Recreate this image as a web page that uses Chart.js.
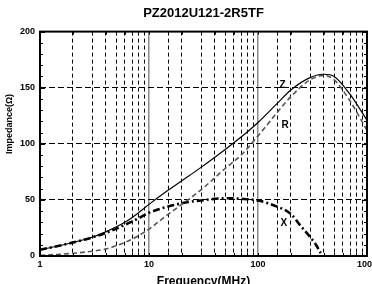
<!DOCTYPE html>
<html lang="en">
<head>
<meta charset="UTF-8" />
<title>PZ2012U121-2R5TF</title>
<style>
  html, body { margin: 0; padding: 0; background: #fff; overflow: hidden; }
  .chart-box { width: 372px; height: 284px; position: relative; }
</style>
</head>
<body>
<div class="chart-box"><canvas id="impChart"></canvas></div>
<script src="https://cdn.jsdelivr.net/npm/chart.js"></script>
<script>
// Z and R are read at these frequencies (MHz)
const freqs = [1, 2, 3, 4, 6, 8, 10, 14, 20, 30, 50, 70, 100, 150, 200, 300, 400, 500, 700, 1000];
const zValues = [5.5, 12, 16.7, 21.5, 30, 38.5, 46, 56.5, 67, 79, 95, 106, 119, 136, 148, 159, 162, 160, 144, 121];
const rValues = [0.5, 2.4, 4.2, 6.2, 12, 18, 24, 35, 46, 59, 78, 90, 107, 128, 142, 157, 161, 157, 138, 112];

// X (reactance) stops where it drops to zero
const xFreqs = [1, 2, 3, 4, 6, 8, 10, 20, 30, 50, 70, 100, 150, 200, 250, 300, 340, 376];
const xValues = [5.5, 12, 16.5, 20.5, 27.7, 33.6, 38.5, 47, 49.5, 51.5, 51, 49.4, 44, 37.5, 26, 17, 10, 2.5];

const decadeTicks = [1, 10, 100, 1000];
const yLabelTicks = [0, 50, 100, 150, 200];

const FONT = 'Arial, "Liberation Sans", sans-serif';
Chart.defaults.font.family = FONT;
Chart.defaults.color = '#000';

const isDecade = v => decadeTicks.includes(v);
const toPoints = (xs, ys) => xs.map((f, i) => ({ x: f, y: ys[i] }));

// frame, inward ticks, curve names and y title
const framePlugin = {
  id: 'frame',
  afterDraw(chart) {
    const { ctx, chartArea: a, scales } = chart;
    ctx.save();
    ctx.strokeStyle = '#000';
    ctx.lineWidth = 1;
    ctx.beginPath();
    for (let v = 0; v <= 200; v += 10) {
      const y = Math.round(scales.y.getPixelForValue(v)) + 0.5;
      const len = yLabelTicks.includes(v) ? 5 : 3;
      ctx.moveTo(a.left, y); ctx.lineTo(a.left + len, y);
      ctx.moveTo(a.right, y); ctx.lineTo(a.right - len, y);
    }
    scales.x.ticks.forEach(t => {
      const x = Math.round(scales.x.getPixelForValue(t.value)) + 0.5;
      ctx.moveTo(x, a.top); ctx.lineTo(x, a.top + 3);
      ctx.moveTo(x, a.bottom); ctx.lineTo(x, a.bottom - 3);
    });
    ctx.stroke();
    ctx.lineWidth = 2;
    ctx.strokeRect(a.left, a.top, a.right - a.left, a.bottom - a.top);

    ctx.fillStyle = '#000';
    ctx.textAlign = 'center';
    ctx.textBaseline = 'middle';
    ctx.font = 'bold 10px ' + FONT;
    [['Z', 168, 152], ['R', 177, 116.5], ['X', 173, 29.5]].forEach(([txt, f, v]) => {
      ctx.fillText(txt, scales.x.getPixelForValue(f), scales.y.getPixelForValue(v));
    });

    ctx.translate(10, 124);
    ctx.rotate(-Math.PI / 2);
    ctx.font = 'bold 9px ' + FONT;
    ctx.fillText('Impedance(\u03A9)', 0, 0);
    ctx.restore();
  }
};

new Chart(document.getElementById('impChart'), {
  type: 'line',
  data: {
    datasets: [
      { label: 'Z', data: toPoints(freqs, zValues), borderColor: '#000', borderWidth: 1.2 },
      { label: 'R', data: toPoints(freqs, rValues), borderColor: '#555', borderWidth: 1.6, borderDash: [5, 3] },
      { label: 'X', data: toPoints(xFreqs, xValues), borderColor: '#000', borderWidth: 2.6, borderDash: [7, 3, 2, 3] }
    ]
  },
  options: {
    responsive: true,
    maintainAspectRatio: false,
    animation: false,
    devicePixelRatio: 1,
    layout: { padding: { left: 0, right: 5, top: 0, bottom: -5 } },
    elements: {
      point: { radius: 0 },
      line: { cubicInterpolationMode: 'monotone', fill: false }
    },
    plugins: {
      legend: { display: false },
      tooltip: { enabled: false },
      title: {
        display: true,
        text: 'PZ2012U121-2R5TF',
        fullSize: false,
        color: '#000',
        font: { size: 13, weight: 'bold' },
        padding: { top: 6, bottom: 10 }
      }
    },
    scales: {
      x: {
        type: 'logarithmic',
        min: 1,
        max: 1000,
        ticks: {
          autoSkip: false,
          maxRotation: 0,
          padding: 3,
          color: '#000',
          font: { size: 9, weight: 'bold' },
          callback: v => (isDecade(v) ? String(v) : '')
        },
        grid: {
          color: c => (c.tick && isDecade(c.tick.value) ? 'rgba(0,0,0,0)' : '#000'),
          lineWidth: 1,
          drawTicks: false
        },
        border: { display: false, dash: [4, 3] },
        title: {
          display: true,
          text: 'Frequency(MHz)',
          color: '#000',
          font: { size: 12, weight: 'bold' },
          padding: 0
        },
        afterFit(s) { s.height = 33; s.paddingLeft = 0; s.paddingRight = 0; }
      },
      xDec: {
        type: 'logarithmic',
        position: 'bottom',
        min: 1,
        max: 1000,
        ticks: { display: false },
        grid: { color: '#8a8a8a', lineWidth: 1.5, drawTicks: false },
        border: { display: false },
        afterBuildTicks(s) { s.ticks = decadeTicks.map(v => ({ value: v })); },
        afterFit(s) { s.height = 0; s.paddingLeft = 0; s.paddingRight = 0; }
      },
      y: {
        min: 0,
        max: 200,
        ticks: {
          stepSize: 50,
          padding: 5,
          color: '#000',
          font: { size: 9, weight: 'bold' }
        },
        grid: { color: '#000', lineWidth: 1, drawTicks: false },
        border: { display: false, dash: [6, 3] },
        afterFit(s) { s.width = 40; s.paddingTop = 0; s.paddingBottom = 0; }
      }
    }
  },
  plugins: [framePlugin]
});
</script>
</body>
</html>
